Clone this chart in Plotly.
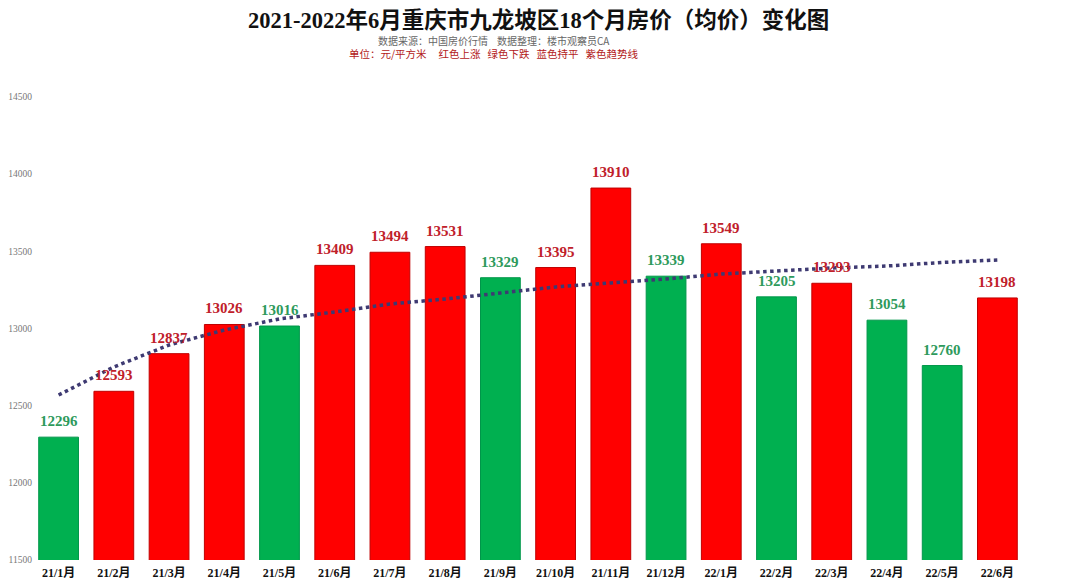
import plotly.graph_objects as go

months = ["21/1月", "21/2月", "21/3月", "21/4月", "21/5月", "21/6月", "21/7月", "21/8月", "21/9月",
          "21/10月", "21/11月", "21/12月", "22/1月", "22/2月", "22/3月", "22/4月", "22/5月", "22/6月"]
prices = [12296, 12593, 12837, 13026, 13016, 13409, 13494, 13531, 13329,
          13395, 13910, 13339, 13549, 13205, 13293, 13054, 12760, 13198]
# trend line
trend = [12569, 12751, 12893, 12990, 13062, 13107, 13159, 13191, 13230,
         13269, 13295, 13321, 13353, 13373, 13392, 13405, 13428, 13444]
direction = ["down", "up", "up", "up", "down", "up", "up", "up", "down",
             "up", "up", "down", "up", "down", "up", "down", "down", "up"]

bar_colors = {"up": "#FF0000", "down": "#00B050"}
edge_colors = {"up": "#C00000", "down": "#00964A"}
text_colors = {"up": "#C0202A", "down": "#2E9A5C"}

serif = "Liberation Serif, Noto Sans CJK SC"

fig = go.Figure()

fig.add_trace(go.Bar(
    x=months,
    y=prices,
    width=0.72,
    marker=dict(
        color=[bar_colors[d] for d in direction],
        line=dict(color=[edge_colors[d] for d in direction], width=1)
    ),
    showlegend=False
))

# value labels, sitting a little above each bar
for m, p, d in zip(months, prices, direction):
    fig.add_annotation(
        x=m, y=p, text="<b>%d</b>" % p,
        yanchor="bottom", yshift=6, showarrow=False,
        font=dict(family=serif, size=15, color=text_colors[d])
    )

fig.add_trace(go.Scatter(
    x=months,
    y=trend,
    mode="lines",
    line=dict(color="#3E3A72", width=3.5, dash="dot"),
    showlegend=False
))

fig.add_annotation(
    text="<b>2021-2022年6月重庆市九龙坡区18个月房价（均价）变化图</b>",
    xref="paper", yref="paper", x=0.511, y=1, yshift=77,
    xanchor="center", yanchor="middle", showarrow=False,
    font=dict(family=serif, size=22.5, color="#111111")
)
fig.add_annotation(
    text="数据来源：中国房价行情    数据整理：楼市观察员CA",
    xref="paper", yref="paper", x=0.466, y=1, yshift=57,
    xanchor="center", yanchor="middle", showarrow=False,
    font=dict(family="Noto Sans CJK SC", size=10, color="#666666")
)
fig.add_annotation(
    text="单位：元/平方米     红色上涨   绿色下跌   蓝色持平   紫色趋势线",
    xref="paper", yref="paper", x=0.466, y=1, yshift=44,
    xanchor="center", yanchor="middle", showarrow=False,
    font=dict(family="Noto Sans CJK SC", size=10.5, color="#B22020")
)

fig.update_layout(
    width=1080,
    height=588,
    margin=dict(l=23, r=63, t=89, b=36),
    paper_bgcolor="white",
    plot_bgcolor="white",
    bargap=0.28,
    xaxis=dict(
        showgrid=False,
        showline=False,
        ticks="",
        automargin=False,
        ticklabelstandoff=4,
        tickfont=dict(family=serif, size=12, color="#111111"),
        tickprefix="<b>", ticksuffix="</b>"
    ),
    yaxis=dict(
        range=[11500, 14500],
        dtick=500,
        tickformat="d",
        showgrid=False,
        showline=False,
        zeroline=False,
        ticks="",
        automargin=False,
        ticklabelstandoff=-2,
        tickfont=dict(family=serif, size=9.5, color="#777777")
    )
)

fig.write_html("out.html")
